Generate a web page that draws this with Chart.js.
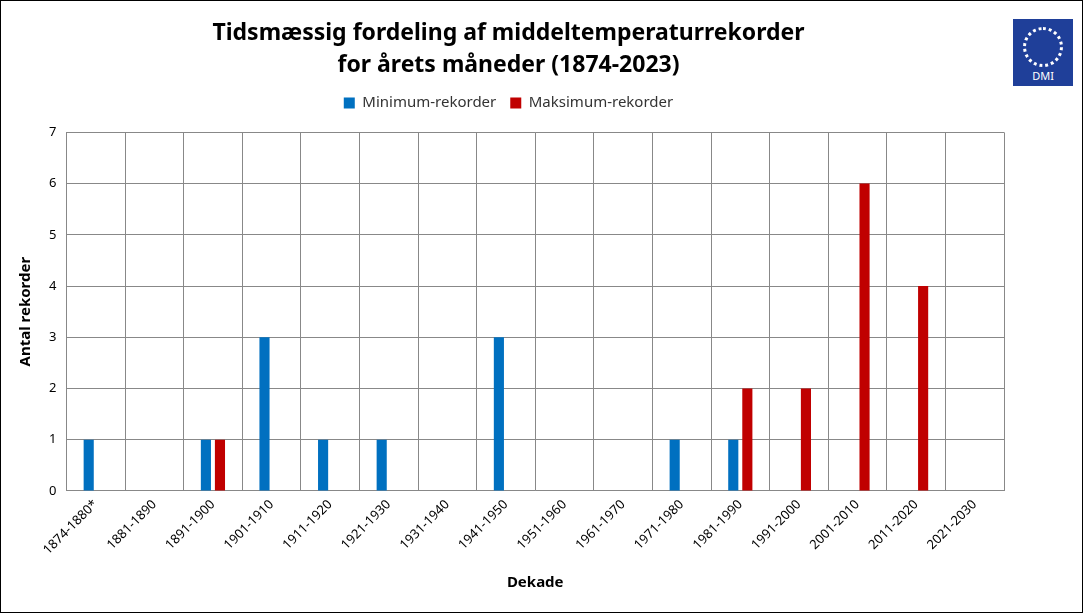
<!DOCTYPE html>
<html>
<head>
<meta charset="utf-8">
<script src="https://cdn.jsdelivr.net/npm/chart.js@4"></script>
<style>
  body { margin: 0; background: #fff; }
  #wrap { position: relative; width: 1081px; height: 611px; border: 1px solid #000; }
  #logo { position: absolute; left: 1012px; top: 18px; width: 60px; height: 67px; background: #1f3f99;
          color: #fff; font: 11px "Noto Sans", sans-serif; text-align: center; }
  #logo .dots { position: absolute; left: 10px; top: 8px; width: 40px; height: 40px; border-radius: 50%;
                border: 3px dotted #fff; box-sizing: border-box; }
  #logo .name { position: absolute; bottom: 3px; width: 100%; }
</style>
</head>
<body>
<div id="wrap">
  <canvas id="chart" width="1081" height="611"></canvas>
  <div id="logo"><div class="dots"></div><div class="name">DMI</div></div>
</div>
<script>
const decades = ['1874-1880*', '1881-1890', '1891-1900', '1901-1910', '1911-1920', '1921-1930', '1931-1940',
    '1941-1950', '1951-1960', '1961-1970', '1971-1980', '1981-1990', '1991-2000', '2001-2010', '2011-2020', '2021-2030'];
const minRecords = [1, 0, 1, 3, 1, 1, 0, 3, 0, 0, 1, 1, 0, 0, 0, 0];
const maxRecords = [0, 0, 1, 0, 0, 0, 0, 0, 0, 0, 0, 2, 2, 6, 4, 0];

const font = 'Noto Sans, sans-serif';

// extra space below the legend
const legendGap = {
    id: 'legendGap',
    beforeInit(chart) {
        const fit = chart.legend.fit;
        chart.legend.fit = function () {
            fit.bind(chart.legend)();
            this.height += 12;
        };
    }
};

new Chart(document.getElementById('chart').getContext('2d'), {
    type: 'bar',
    data: {
        labels: decades,
        datasets: [
            { label: 'Minimum-rekorder', data: minRecords, backgroundColor: '#0070c0' },
            { label: 'Maksimum-rekorder', data: maxRecords, backgroundColor: '#c00000' }
        ]
    },
    options: {
        responsive: false,
        animation: false,
        categoryPercentage: 0.48,
        barPercentage: 0.72,
        layout: { padding: { left: 12, right: 78, top: 8, bottom: 16 } },
        plugins: {
            title: {
                display: true,
                text: ['Tidsmæssig fordeling af middeltemperaturrekorder', 'for årets måneder (1874-2023)'],
                color: '#000',
                font: { family: font, size: 23, weight: 'bold', lineHeight: 1.4 },
                padding: { top: 8, bottom: 0 }
            },
            legend: {
                labels: { boxWidth: 11, boxHeight: 11, color: '#333', font: { family: font, size: 15 }, padding: 14 }
            },
            tooltip: { enabled: false }
        },
        scales: {
            x: {
                grid: { color: '#888', drawTicks: false },
                border: { color: '#888' },
                ticks: { color: '#000', maxRotation: 45, minRotation: 45, font: { family: font, size: 13 }, padding: 6 },
                title: { display: true, text: 'Dekade', color: '#000', font: { family: font, size: 15, weight: 'bold' }, padding: { top: 10 } }
            },
            y: {
                min: 0, max: 7,
                grid: { color: '#888', drawTicks: false },
                border: { color: '#888' },
                ticks: { stepSize: 1, color: '#000', font: { family: font, size: 13 }, padding: 10 },
                title: { display: true, text: 'Antal rekorder', color: '#000', font: { family: font, size: 15, weight: 'bold' } }
            }
        }
    },
    plugins: [legendGap]
});
</script>
</body>
</html>
